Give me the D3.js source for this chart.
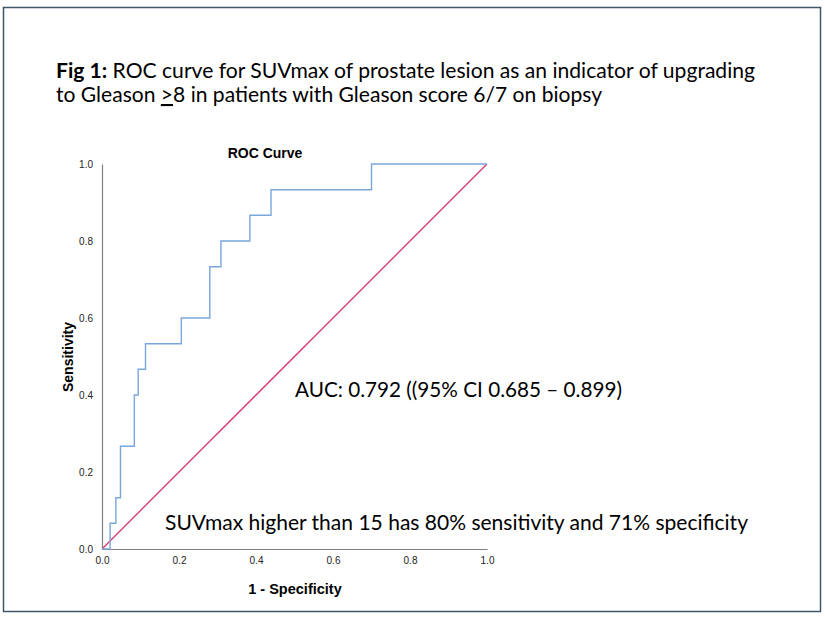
<!DOCTYPE html>
<html>
<head>
<meta charset="utf-8">
<script src="https://cdn.jsdelivr.net/npm/d3@7"></script>
<style>
  body { margin: 0; background: #fff; }
</style>
</head>
<body>
<div id="demo"></div>
<script>
// data: ROC step points (1 - specificity, sensitivity)
var fpr = [0, 0.021, 0.036, 0.048, 0.084, 0.094, 0.113, 0.206, 0.280, 0.309, 0.384, 0.439, 0.700, 1.0];
var tpr = [0, 0.067, 0.133, 0.267, 0.400, 0.467, 0.533, 0.600, 0.733, 0.800, 0.867, 0.933, 1.0, 1.0];
var refLine = [0, 1];
var tickValues = [0, 0.2, 0.4, 0.6, 0.8, 1.0];

var titleLine1 = "ROC curve for SUVmax of prostate lesion as an indicator of upgrading";
var aucText = "AUC: 0.792 ((95% CI 0.685 \u2013 0.899)";
var cutText = "SUVmax higher than 15 has 80% sensitivity and 71% specificity";

var svg = d3.select("#demo").append("svg")
	.attr("width", 825)
	.attr("height", 619);

svg.append("rect")
	.attr("width", 825).attr("height", 619)
	.attr("fill", "#fff");

// outer frame
svg.append("rect")
	.attr("x", 3.5).attr("y", 7.5)
	.attr("width", 817).attr("height", 604)
	.attr("fill", "none")
	.attr("stroke", "#3f566a")
	.attr("stroke-width", 1.5);

var x = d3.scaleLinear().domain([0, 1]).range([102, 487]);
var y = d3.scaleLinear().domain([0, 1]).range([549, 164]);

// title (two lines)
var t1 = svg.append("text")
	.attr("x", 56).attr("y", 78)
	.attr("font-family", "Lato, 'Open Sans', sans-serif")
	.attr("font-size", 21)
	.attr("fill", "#000")
	.attr("textLength", 699)
	.attr("lengthAdjust", "spacingAndGlyphs");
t1.append("tspan").attr("font-weight", "bold").text("Fig 1:");
t1.append("tspan").text(" " + titleLine1);

var t2 = svg.append("text")
	.attr("x", 56).attr("y", 102)
	.attr("font-family", "Lato, 'Open Sans', sans-serif")
	.attr("font-size", 21)
	.attr("fill", "#000")
	.attr("textLength", 546)
	.attr("lengthAdjust", "spacingAndGlyphs");
t2.append("tspan").text("to Gleason ");
t2.append("tspan").attr("text-decoration", "underline").text(">");
t2.append("tspan").text("8 in patients with Gleason score 6/7 on biopsy");

// chart title
svg.append("text")
	.attr("x", 265).attr("y", 158)
	.attr("text-anchor", "middle")
	.attr("font-family", "'Liberation Sans', Arial, sans-serif")
	.attr("font-weight", "bold")
	.attr("font-size", 14)
	.text("ROC Curve");

// axes
var xAxis = d3.axisBottom(x).tickValues(tickValues).tickFormat(d3.format(".1f"))
	.tickSize(0).tickPadding(7.5);
var yAxis = d3.axisLeft(y).tickValues(tickValues).tickFormat(d3.format(".1f"))
	.tickSize(0).tickPadding(9);

var gx = svg.append("g").attr("transform", "translate(0,549)").call(xAxis);
var gy = svg.append("g").attr("transform", "translate(102,0)").call(yAxis);

[gx, gy].forEach(function(g) {
	g.select(".domain").attr("stroke", "#808080").attr("stroke-width", 1.2);
	g.selectAll("text")
		.attr("font-family", "'Liberation Sans', Arial, sans-serif")
		.attr("font-size", 10)
		.attr("fill", "#222");
});

// axis titles
svg.append("text")
	.attr("x", 295).attr("y", 594)
	.attr("text-anchor", "middle")
	.attr("font-family", "'Liberation Sans', Arial, sans-serif")
	.attr("font-weight", "bold")
	.attr("font-size", 14.5)
	.text("1 - Specificity");

svg.append("text")
	.attr("transform", "translate(73,357) rotate(-90)")
	.attr("text-anchor", "middle")
	.attr("font-family", "'Liberation Sans', Arial, sans-serif")
	.attr("font-weight", "bold")
	.attr("font-size", 14)
	.text("Sensitivity");

// reference diagonal
svg.append("line")
	.attr("x1", x(refLine[0])).attr("y1", y(refLine[0]))
	.attr("x2", x(refLine[1])).attr("y2", y(refLine[1]))
	.attr("stroke", "#d6336a")
	.attr("stroke-width", 1.3);

// ROC step curve
var line = d3.line()
	.x(function(d, i) { return x(fpr[i]); })
	.y(function(d, i) { return y(tpr[i]); })
	.curve(d3.curveStepAfter);

svg.append("path")
	.datum(fpr)
	.attr("d", line)
	.attr("fill", "none")
	.attr("stroke", "#79a6dc")
	.attr("stroke-width", 1.4);

// annotations
svg.append("text")
	.attr("x", 295).attr("y", 397)
	.attr("font-family", "Lato, 'Open Sans', sans-serif")
	.attr("font-size", 21)
	.attr("textLength", 327)
	.attr("lengthAdjust", "spacingAndGlyphs")
	.text(aucText);

svg.append("text")
	.attr("x", 165).attr("y", 530)
	.attr("font-family", "Lato, 'Open Sans', sans-serif")
	.attr("font-size", 21)
	.attr("textLength", 583)
	.attr("lengthAdjust", "spacingAndGlyphs")
	.text(cutText);
</script>
</body>
</html>
